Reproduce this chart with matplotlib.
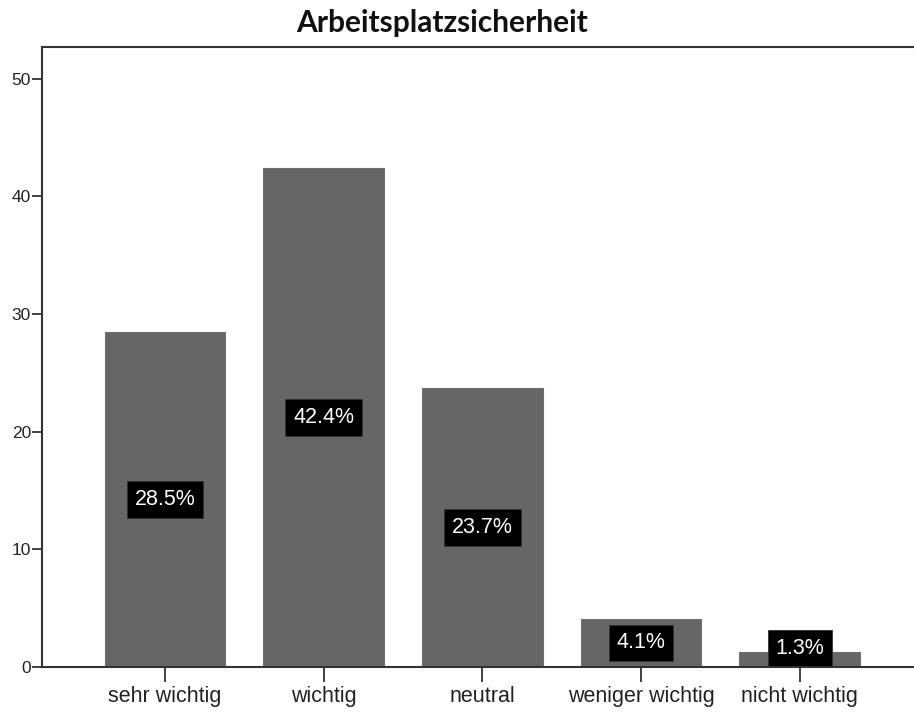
import matplotlib
matplotlib.use("Agg")
import matplotlib.pyplot as plt

# values
categories = ["sehr wichtig", "wichtig", "neutral", "weniger wichtig", "nicht wichtig"]
percent = [28.5, 42.4, 23.7, 4.1, 1.3]
yticks = [0, 10, 20, 30, 40, 50]
title = "Arbeitsplatzsicherheit"

fig = plt.figure(figsize=(9.14, 7.13), dpi=100)
ax = fig.add_axes([42 / 914, 1 - 667 / 713, 1 - 42 / 914, (667 - 47) / 713])

x = list(range(len(categories)))
ax.bar(x, percent, width=0.76, color="#666666", edgecolor="#707070", linewidth=0.8, zorder=2)

for xi, v in zip(x, percent):
    ypos = max(v / 2, 1.6)
    ax.text(xi, ypos, f"{v:.1f}%", ha="center", va="center", color="white",
            fontsize=15.5, family="Liberation Sans", zorder=3,
            bbox=dict(boxstyle="square,pad=0.36", facecolor="black", edgecolor="#333333", linewidth=0.6))

ax.set_xlim(-0.775, 4.72)
ax.set_ylim(0, 52.7)
ax.set_yticks(yticks)
ax.set_xticks(x)
ax.set_xticklabels(categories, fontsize=15.5, family="Liberation Sans", color="#222222")
ax.set_yticklabels([str(t) for t in yticks], fontsize=12.5, family="Liberation Sans", color="#222222")

ax.tick_params(axis="y", length=7, width=1.3, color="#333333", pad=1)
ax.tick_params(axis="x", length=11, width=1.3, color="#333333", pad=3)

for s in ["left", "top", "bottom"]:
    ax.spines[s].set_color("#333333")
    ax.spines[s].set_linewidth(1.5)
ax.spines["right"].set_visible(False)

fig.text(442 / 914, 1 - 23 / 713, title, ha="center", va="center",
         fontsize=21.5, fontweight="bold", family="Lato", color="#111111")

fig.savefig("out.png", dpi=100)
